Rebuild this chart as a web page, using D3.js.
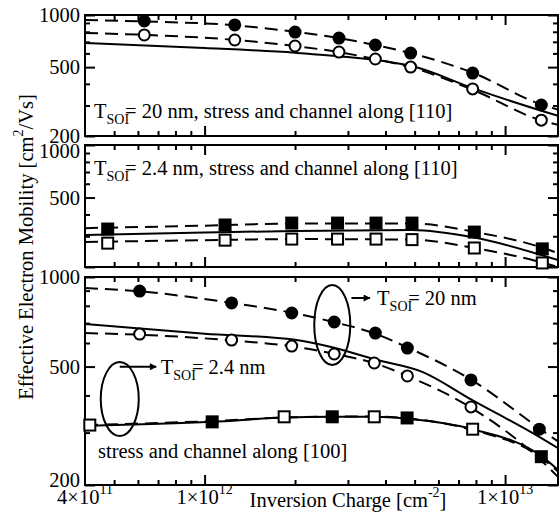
<!DOCTYPE html>
<html>
<head>
<meta charset="utf-8">
<script src="https://cdn.jsdelivr.net/npm/d3@7"></script>
<style>
  body { margin: 0; background: #fff; }
  text { font-family: "Liberation Serif", "Times New Roman", serif; fill: #000; }
</style>
</head>
<body>
<div id="container"></div>
<script>

// ---- data (charge in cm^-2, mobility in cm^2/Vs) ----
const xMajor = [1e12, 1e13];
const xMinor = [5e11, 6e11, 7e11, 8e11, 9e11, 2e12, 3e12, 4e12, 5e12, 6e12, 7e12, 8e12, 9e12];
const yMajor = [200, 500, 1000];
const yMinor = [300, 400, 600, 700, 800, 900];
const xTickLabels = [[4e11, "4×10", "11"], [1e12, "1×10", "12"], [1e13, "1×10", "13"]];
// which y labels each panel shows (panel 2 has no 200, the 1000 below takes its place)
const yLabelsByPanel = [[200, 500, 1000], [500, 1000], [200, 500, 1000]];

// panel 1: T=20nm, [110]
const p1Filled = [[6.3e11, 923], [1.26e12, 876], [2.0e12, 797], [2.8e12, 736], [3.7e12, 671], [4.85e12, 603], [7.8e12, 462], [1.32e13, 302]];
const p1Open   = [[6.3e11, 767], [1.26e12, 717], [2.0e12, 662], [2.8e12, 611], [3.7e12, 557], [4.85e12, 500], [7.8e12, 374], [1.32e13, 247]];
const p1DashFilled = [[4e11, 935], [6.3e11, 918], [1.26e12, 872], [2e12, 800], [2.8e12, 736], [3.7e12, 670], [4.85e12, 602], [7.8e12, 464], [1.32e13, 304], [1.5e13, 284]];
const p1DashOpen   = [[4e11, 787], [6.3e11, 768], [1.26e12, 718], [2e12, 662], [2.8e12, 610], [3.7e12, 556], [4.85e12, 499], [7.8e12, 370], [1.32e13, 246], [1.5e13, 232]];
const p1Solid      = [[4e11, 689], [1e12, 645], [2e12, 605], [3e12, 572], [4e12, 540], [5e12, 503], [7.8e12, 378], [1.32e13, 280], [1.5e13, 262]];

// panel 2: T=2.4nm, [110]
const p2Filled = [[4.76e11, 330], [1.17e12, 348], [1.95e12, 357], [2.77e12, 357], [3.72e12, 357], [4.9e12, 357], [7.9e12, 317], [1.33e13, 254]];
const p2Open   = [[4.76e11, 274], [1.17e12, 285], [1.95e12, 289], [2.77e12, 289], [3.72e12, 289], [4.9e12, 287], [7.9e12, 257], [1.33e13, 211]];
const p2DashFilled = [[4e11, 334], [1e12, 345], [2e12, 355], [4.9e12, 355], [7.9e12, 318], [1.33e13, 258], [1.5e13, 240]];
const p2DashOpen   = [[4e11, 278], [1e12, 285], [2e12, 289], [4.9e12, 287], [7.9e12, 257], [1.33e13, 212], [1.5e13, 200]];
const p2Solid      = [[4e11, 305], [1e12, 315], [2e12, 322], [4.9e12, 326], [7.9e12, 295], [1.5e13, 219]];

// panel 3: [100], both thicknesses
const p3Filled = [[6.08e11, 897], [1.23e12, 818], [1.95e12, 757], [2.7e12, 706], [3.7e12, 648], [4.73e12, 577], [7.7e12, 451], [1.3e13, 308]];
const p3Open   = [[6.08e11, 643], [1.23e12, 614], [1.95e12, 586], [2.7e12, 551], [3.67e12, 514], [4.73e12, 465], [7.7e12, 366]];
const p3SqFilled = [[1.06e12, 326], [2.66e12, 339], [4.72e12, 336], [1.32e13, 249]];
const p3SqOpen   = [[4.15e11, 318], [1.84e12, 339], [3.67e12, 339], [7.8e12, 308]];
const p3DashFilled = [[4e11, 918], [6.08e11, 895], [1.23e12, 818], [2e12, 755], [2.7e12, 705], [3.7e12, 645], [4.73e12, 580], [7.7e12, 452], [1.3e13, 310], [1.5e13, 280]];
const p3DashOpen   = [[4e11, 648], [6.08e11, 640], [1.23e12, 612], [2e12, 583], [2.7e12, 552], [3.7e12, 512], [4.73e12, 465], [7.7e12, 364], [1.3e13, 245], [1.5e13, 213]];
const p3Solid      = [[4e11, 695], [1e12, 645], [2e12, 615], [2.7e12, 578], [3.7e12, 528], [5.3e12, 480], [7.7e12, 388], [1.3e13, 290], [1.5e13, 266]];
const p3SqSolid    = [[4e11, 316], [1.06e12, 326], [1.84e12, 337], [2.66e12, 339], [3.67e12, 339], [4.72e12, 334], [7.8e12, 308], [1.32e13, 250], [1.5e13, 225]];
const p3SqDash     = [[4e11, 318], [1.06e12, 328], [2e12, 338], [3.67e12, 340], [4.72e12, 335], [7.8e12, 306], [1.32e13, 247], [1.5e13, 222]];

// ---- layout ----
const width = 559, height = 517;
const left = 85, right = 558;
const fs = '20.5px', fsSmall = '14px';
const panels = [
  {top: 15, bottom: 136},
  {top: 145, bottom: 267},
  {top: 277, bottom: 485}
];

const svg = d3.select('#container').append('svg')
  .attr('width', width)
  .attr('height', height);

const x = d3.scaleLog().domain([4e11, 1.5e13]).range([left, right]);
panels.forEach(p => {
  p.y = d3.scaleLog().domain([200, 1000]).range([p.bottom, p.top]);
});

const line = y => d3.line()
  .x(d => x(d[0]))
  .y(d => y(d[1]))
  .curve(d3.curveMonotoneX);

// frames + ticks, inward on all four sides
panels.forEach((p, i) => {
  const g = svg.append('g');
  const axes = [
    [d3.axisBottom(x), `translate(0,${p.bottom})`, xMajor, xMinor],
    [d3.axisTop(x), `translate(0,${p.top})`, xMajor, xMinor],
    [d3.axisLeft(p.y), `translate(${left},0)`, yMajor, yMinor],
    [d3.axisRight(p.y), `translate(${right},0)`, yMajor, yMinor]
  ];
  axes.forEach(([ax, tr, maj, min]) => {
    g.append('g').attr('transform', tr)
      .call(ax.tickValues(maj).tickSize(-10).tickFormat(''))
      .call(s => s.select('.domain').remove());
    g.append('g').attr('transform', tr)
      .call(ax.tickValues(min).tickSize(-5).tickFormat(''))
      .call(s => s.select('.domain').remove());
  });
  g.selectAll('line').attr('stroke', '#000').attr('stroke-width', 2);

  g.append('rect')
    .attr('x', left).attr('y', p.top)
    .attr('width', right - left).attr('height', p.bottom - p.top)
    .attr('fill', 'none').attr('stroke', '#000').attr('stroke-width', 2);

  // y tick labels
  g.selectAll('.ylab').data(yLabelsByPanel[i]).enter().append('text')
    .attr('x', left - 5)
    .attr('y', d => p.y(d) + ((i === 1 && d === 1000) ? 6 : 0) + ((i === 2 && d === 200) ? -5 : 0))
    .attr('dy', '0.35em')
    .attr('text-anchor', 'end')
    .style('font-size', fs)
    .text(d => d);

  svg.append('clipPath').attr('id', 'clip' + i)
    .append('rect')
    .attr('x', left).attr('y', p.top)
    .attr('width', right - left).attr('height', p.bottom - p.top);
});

function drawLine(p, i, data, dashed) {
  svg.append('path')
    .attr('clip-path', `url(#clip${i})`)
    .attr('d', line(p.y)(data))
    .attr('fill', 'none')
    .attr('stroke', '#000')
    .attr('stroke-width', 2)
    .attr('stroke-dasharray', dashed ? '13,7' : null);
}

function drawCircles(p, data, filled) {
  svg.append('g').selectAll('circle').data(data).enter().append('circle')
    .attr('cx', d => x(d[0]))
    .attr('cy', d => p.y(d[1]))
    .attr('r', 5.5)
    .attr('fill', filled ? '#000' : '#fff')
    .attr('stroke', '#000')
    .attr('stroke-width', 2);
}

function drawSquares(p, data, filled) {
  svg.append('g').selectAll('rect').data(data).enter().append('rect')
    .attr('x', d => x(d[0]) - 5.5)
    .attr('y', d => p.y(d[1]) - 5.5)
    .attr('width', 11)
    .attr('height', 11)
    .attr('fill', filled ? '#000' : '#fff')
    .attr('stroke', '#000')
    .attr('stroke-width', 2);
}

const [P1, P2, P3] = panels;

drawLine(P1, 0, p1Solid, false);
drawLine(P1, 0, p1DashFilled, true);
drawLine(P1, 0, p1DashOpen, true);
drawCircles(P1, p1Filled, true);
drawCircles(P1, p1Open, false);

drawLine(P2, 1, p2Solid, false);
drawLine(P2, 1, p2DashFilled, true);
drawLine(P2, 1, p2DashOpen, true);
drawSquares(P2, p2Filled, true);
drawSquares(P2, p2Open, false);

drawLine(P3, 2, p3Solid, false);
drawLine(P3, 2, p3DashFilled, true);
drawLine(P3, 2, p3DashOpen, true);
drawLine(P3, 2, p3SqSolid, false);
drawLine(P3, 2, p3SqDash, true);
drawCircles(P3, p3Filled, true);
drawCircles(P3, p3Open, false);
drawSquares(P3, p3SqOpen, false);
drawSquares(P3, p3SqFilled, true);

// ---- text ----
function tsoi(xp, yp, rest) {
  const t = svg.append('text')
    .attr('x', xp).attr('y', yp)
    .style('font-size', fs);
  t.append('tspan').text('T');
  t.append('tspan').attr('dy', 6).style('font-size', fsSmall).text('SOI');
  t.append('tspan').attr('dy', -6).attr('dx', -4).text('= ' + rest);
  return t;
}

tsoi(left + 9, P1.bottom - 18, '20 nm, stress and channel along [110]');
tsoi(left + 9, P2.top + 30, '2.4 nm, stress and channel along [110]');
svg.append('text')
  .attr('x', left + 13).attr('y', P3.bottom - 27)
  .style('font-size', fs)
  .text('stress and channel along [100]');

// annotations in panel 3
const annot = [
  {cx: 2.66e12, cy: 690, rx: 18, ry: 40, ax0: 3.08e12, ax1: 3.55e12, ay: 850, tx: 3.75e12, label: '20 nm'},
  {cx: 5.22e11, cy: 389, rx: 19, ry: 37, ax0: 5.22e11, ax1: 6.9e11, ay: 499, tx: 7.15e11, label: '2.4 nm'}
];
svg.append('defs').append('marker')
  .attr('id', 'arrow').attr('viewBox', '0 0 10 10')
  .attr('refX', 9).attr('refY', 5)
  .attr('markerWidth', 9).attr('markerHeight', 7)
  .attr('markerUnits', 'userSpaceOnUse')
  .attr('orient', 'auto')
  .append('path').attr('d', 'M0,0 L10,5 L0,10 z').attr('fill', '#000');

annot.forEach(a => {
  svg.append('ellipse')
    .attr('cx', x(a.cx)).attr('cy', P3.y(a.cy))
    .attr('rx', a.rx).attr('ry', a.ry)
    .attr('fill', 'none').attr('stroke', '#000').attr('stroke-width', 2);
  svg.append('line')
    .attr('x1', x(a.ax0)).attr('x2', x(a.ax1))
    .attr('y1', P3.y(a.ay)).attr('y2', P3.y(a.ay))
    .attr('stroke', '#000').attr('stroke-width', 2)
    .attr('marker-end', 'url(#arrow)');
  tsoi(x(a.tx), P3.y(a.ay) + 7, a.label);
});

// x tick labels
xTickLabels.forEach(([v, base, exp]) => {
  const t = svg.append('text')
    .attr('x', x(v)).attr('y', 504)
    .attr('text-anchor', 'middle')
    .style('font-size', fs);
  t.append('tspan').text(base);
  t.append('tspan').attr('dy', -10).style('font-size', fsSmall).text(exp);
});

// axis titles
const xt = svg.append('text')
  .attr('x', 348).attr('y', 507)
  .attr('text-anchor', 'middle')
  .style('font-size', fs);
xt.append('tspan').text('Inversion Charge [cm');
xt.append('tspan').attr('dy', -10).style('font-size', fsSmall).text('-2');
xt.append('tspan').attr('dy', 10).text(']');

const yt = svg.append('text')
  .attr('transform', 'translate(33,247) rotate(-90)')
  .attr('text-anchor', 'middle')
  .style('font-size', fs);
yt.append('tspan').text('Effective Electron Mobility [cm');
yt.append('tspan').attr('dy', -10).style('font-size', fsSmall).text('2');
yt.append('tspan').attr('dy', 10).text('/Vs]');

</script>
</body>
</html>
